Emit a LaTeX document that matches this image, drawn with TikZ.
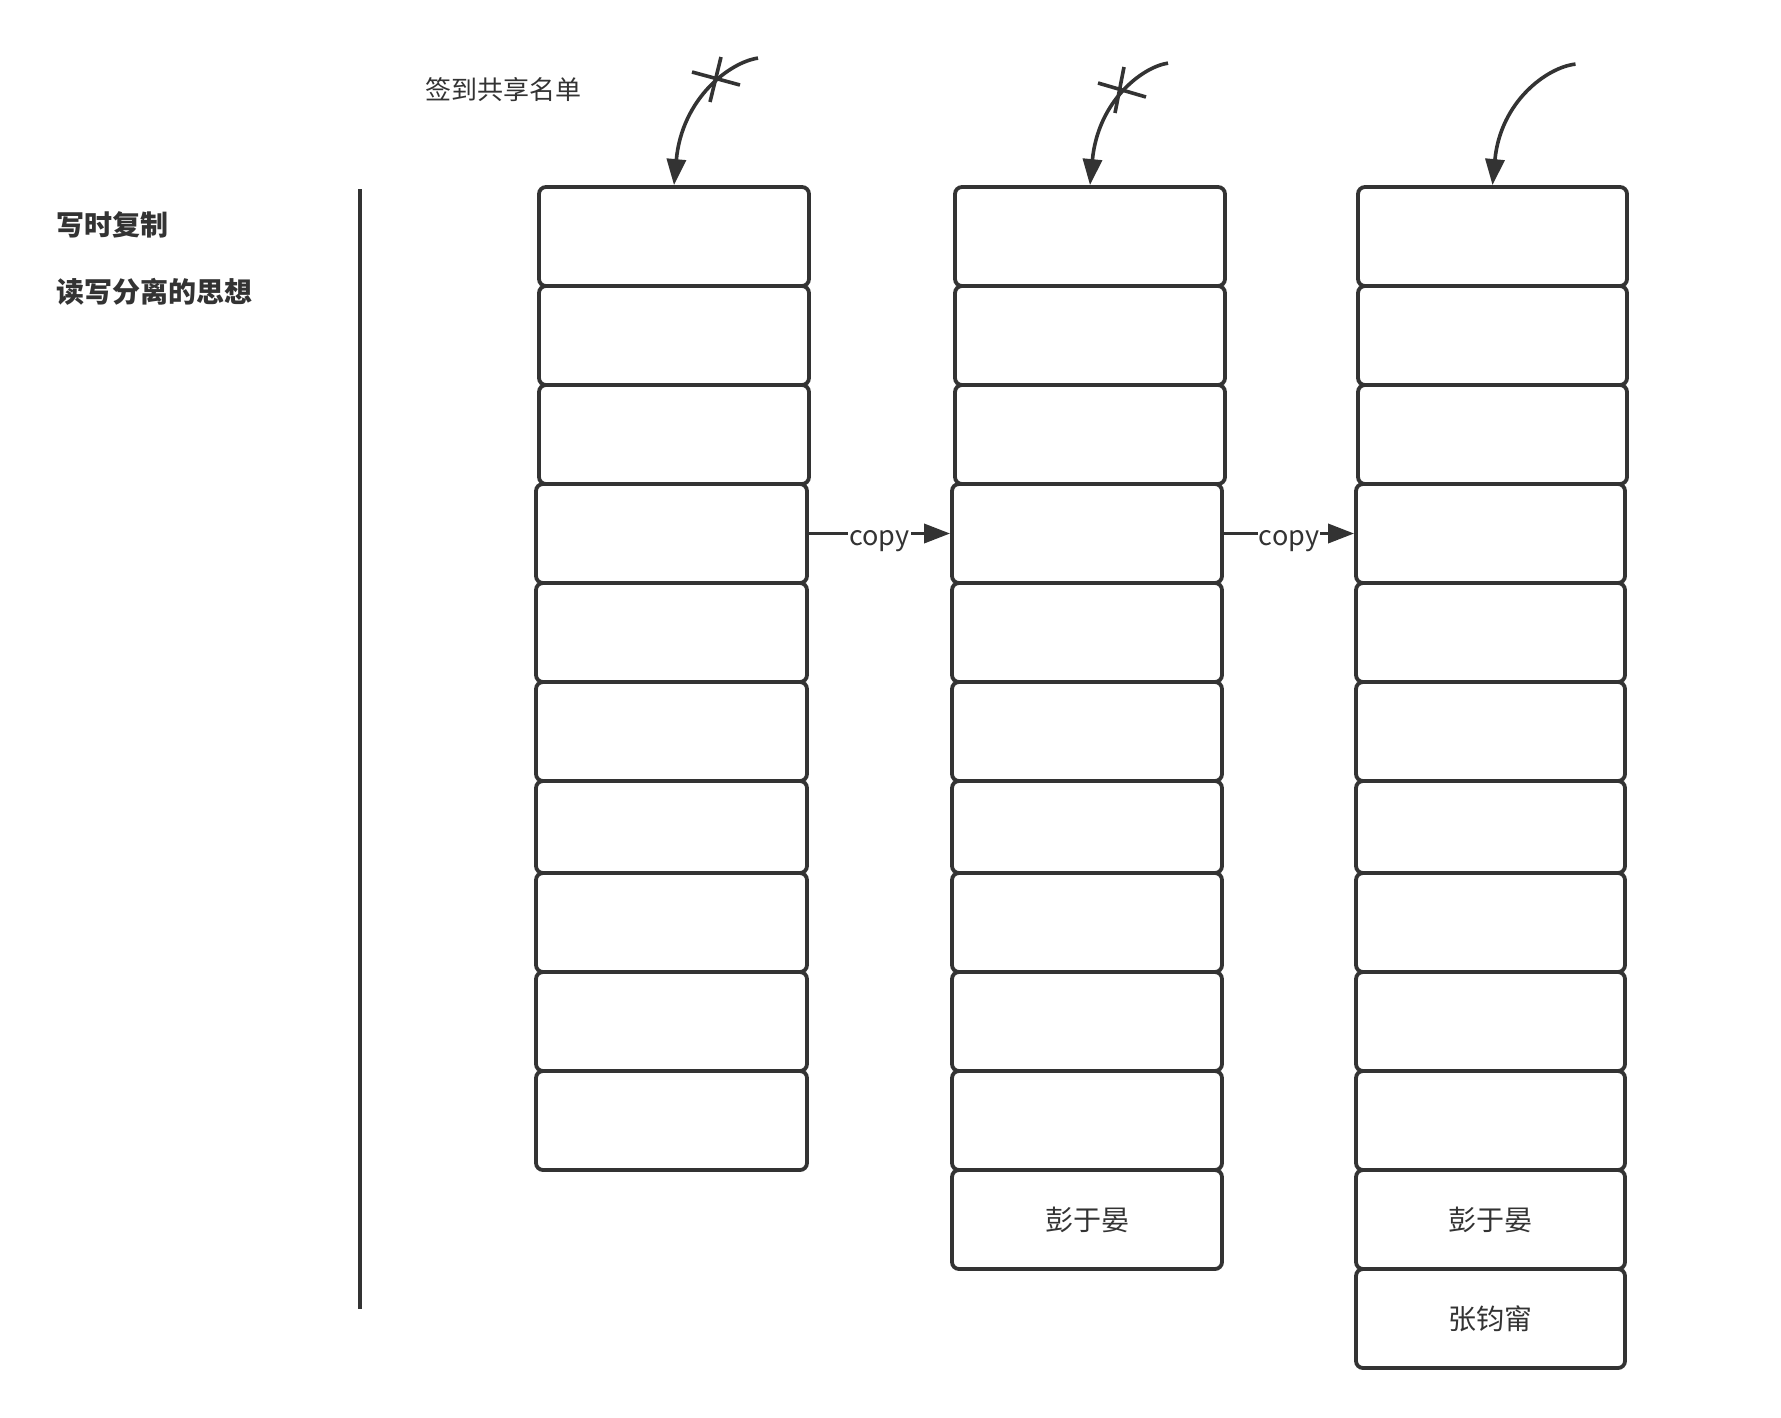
\documentclass[tikz,border=0pt]{standalone}
\usepackage{fontspec}
\setmainfont{Noto Sans CJK SC}
\usetikzlibrary{arrows.meta,calc}
\definecolor{ink}{HTML}{333333}
\tikzset{
  cell/.style={draw=ink, line width=3.8pt, rounded corners=7pt, fill=white, inner sep=0pt},
  conn/.style={draw=ink, line width=3.6pt, -{Triangle[length=26pt,width=19pt]}},
  lbl/.style={fill=white, inner sep=1pt, text=ink, yshift=-8pt, font=\fontsize{27pt}{30pt}\selectfont},
  namefont/.style={text=ink, font=\fontsize{28pt}{32pt}\selectfont},
  title/.style={text=ink, anchor=west, font=\fontsize{28pt}{32pt}\selectfont\bfseries},
}
\begin{document}
\begin{tikzpicture}[x=1pt,y=-1pt]
\useasboundingbox[fill=white] (0,0) rectangle (1781,1417);

% titles
\node[title] (t1) at (53,225) {写时复制};
\node[title] (t2) at (53,292) {读写分离的思想};
\node[text=ink, font=\fontsize{26pt}{30pt}\selectfont] (t3) at (503,90) {签到共享名单};

% separator
\coordinate (v1) at (360,189);
\coordinate (v2) at (360,1309);
\draw[ink, line width=4pt] (v1) -- (v2);

% columns: top three boxes
\foreach \i/\cy in {1/236.5, 2/335.5, 3/434.5}{
  \node[cell, minimum width=270pt, minimum height=99pt] (c1b\i) at (674,\cy) {};
  \node[cell, minimum width=270pt, minimum height=99pt] (c2b\i) at (1090,\cy) {};
  \node[cell, minimum width=269pt, minimum height=99pt] (c3b\i) at (1492.5,\cy) {};
}
% remaining boxes
\foreach \i/\cy/\h in {4/533.5/99, 5/632.5/99, 6/731.5/99, 7/827/92, 8/922.5/99, 9/1021.5/99, 10/1120.5/99}{
  \node[cell, minimum width=271pt, minimum height=\h pt] (c1b\i) at (671.5,\cy) {};
  \node[cell, minimum width=270pt, minimum height=\h pt] (c2b\i) at (1087,\cy) {};
  \node[cell, minimum width=269pt, minimum height=\h pt] (c3b\i) at (1490.5,\cy) {};
}
\node[cell, minimum width=270pt, minimum height=99pt, namefont] (c2b11) at (1087,1219.5) {彭于晏};
\node[cell, minimum width=269pt, minimum height=99pt, namefont] (c3b11) at (1490.5,1219.5) {彭于晏};
\node[cell, minimum width=269pt, minimum height=99pt, namefont] (c3b12) at (1490.5,1318.5) {张钧甯};

% copy arrows
\draw[conn] (c1b4.east) -- node[lbl] {copy} (c2b4.west);
\draw[conn] (c2b4.east) -- node[lbl] {copy} (c3b4.west);

% curved pointers
\coordinate (s1) at ($(c1b1.north)+(84,-127)$);
\coordinate (s2) at ($(c2b1.north)+(78,-122)$);
\coordinate (s3) at ($(c3b1.north)+(83,-121)$);
\draw[conn] (s1) .. controls ($(c1b1.north)+(56,-123)$) and ($(c1b1.north)+(8,-87)$) .. (c1b1.north);
\draw[conn] (s2) .. controls ($(c2b1.north)+(52,-118)$) and ($(c2b1.north)+(8,-84)$) .. (c2b1.north);
\draw[conn] (s3) .. controls ($(c3b1.north)+(55,-118)$) and ($(c3b1.north)+(8,-84)$) .. (c3b1.north);

% cross marks on the old pointers
\draw[ink, line width=3.6pt] (692,72) -- (740,85);
\draw[ink, line width=3.6pt] (721,57) -- (710,102);
\draw[ink, line width=3.6pt] (1098,83) -- (1146,97);
\draw[ink, line width=3.6pt] (1124,67) -- (1115,113);
\end{tikzpicture}
\end{document}
